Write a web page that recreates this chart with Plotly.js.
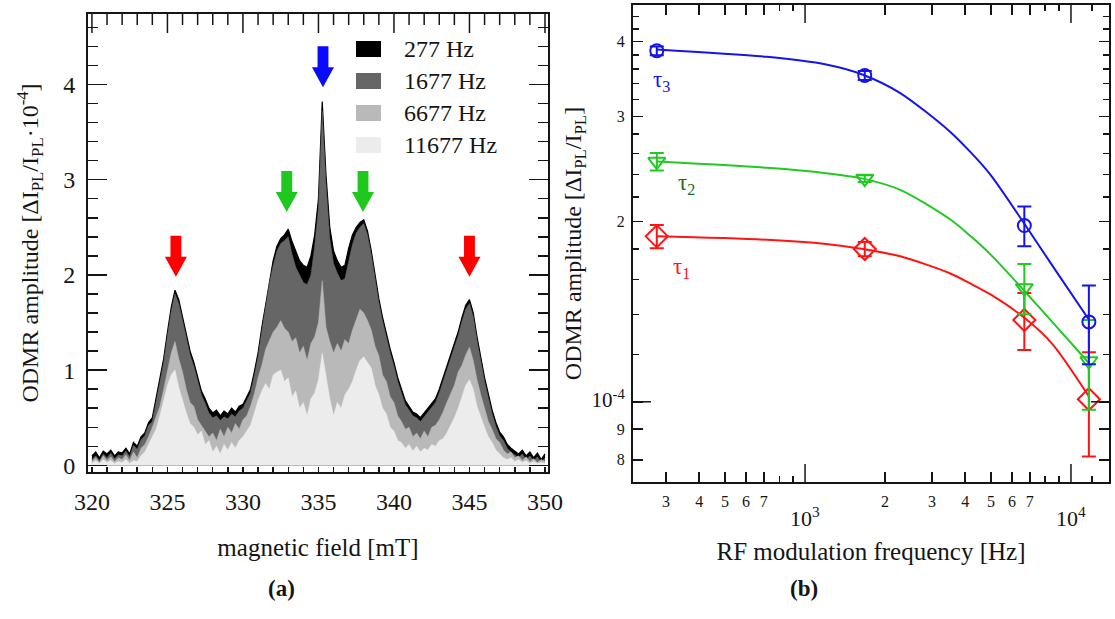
<!DOCTYPE html>
<html><head><meta charset="utf-8">
<script src="https://cdn.plot.ly/plotly-3.0.1.min.js"></script>
<style>html,body{margin:0;padding:0;background:#fff}#chart{width:1115px;height:619px}</style>
</head><body><div id="chart"></div>
<script>
// ---------- panel (a): ODMR spectra ----------
const field = [320,320.25,320.5,320.75,321,321.25,321.5,321.75,322,322.25,322.5,322.75,323,323.25,323.5,323.75,324,324.25,324.5,324.75,325,325.25,325.5,325.75,326,326.25,326.5,326.75,327,327.25,327.5,327.75,328,328.25,328.5,328.75,329,329.25,329.5,329.75,330,330.25,330.5,330.75,331,331.25,331.5,331.75,332,332.25,332.5,332.75,333,333.25,333.5,333.75,334,334.25,334.5,334.75,335,335.25,335.5,335.75,336,336.25,336.5,336.75,337,337.25,337.5,337.75,338,338.25,338.5,338.75,339,339.25,339.5,339.75,340,340.25,340.5,340.75,341,341.25,341.5,341.75,342,342.25,342.5,342.75,343,343.25,343.5,343.75,344,344.25,344.5,344.75,345,345.25,345.5,345.75,346,346.25,346.5,346.75,347,347.25,347.5,347.75,348,348.25,348.5,348.75,349,349.25,349.5,349.75,350];
const amp277 = [0.10,0.14,0.08,0.15, 0.12,0.16,0.10,0.14, 0.13,0.18,0.12,0.24, 0.20,0.30,0.34,0.45, 0.50,0.70,0.90,1.12, 1.40,1.66,1.84,1.74, 1.56,1.38,1.20,1.08, 0.92,0.78,0.70,0.60, 0.55,0.58,0.52,0.57, 0.54,0.60,0.56,0.62, 0.64,0.72,0.80,0.98, 1.18,1.45,1.70,1.95, 2.15,2.30,2.38,2.42, 2.48,2.35,2.24,2.15, 2.10,2.08,2.20,2.42, 2.80,3.82,3.05,2.50, 2.25,2.15,2.08,2.10, 2.28,2.42,2.50,2.55, 2.58,2.46,2.25,1.98, 1.75,1.55,1.38,1.22, 1.08,0.92,0.80,0.68, 0.62,0.56,0.54,0.50, 0.55,0.60,0.66,0.70, 0.80,0.92,1.05,1.18, 1.28,1.40,1.55,1.68, 1.74,1.60,1.35,1.12, 0.92,0.75,0.58,0.45, 0.35,0.30,0.22,0.18, 0.15,0.12,0.16,0.10, 0.14,0.08,0.13,0.06, 0.12];
const amp1677 = [0.06,0.10,0.05,0.12, 0.08,0.13,0.07,0.11, 0.10,0.15,0.09,0.21, 0.17,0.27,0.31,0.42, 0.46,0.66,0.86,1.08, 1.36,1.62,1.80,1.70, 1.52,1.34,1.16,1.04, 0.88,0.74,0.65,0.55, 0.50,0.52,0.47,0.51, 0.49,0.54,0.51,0.57, 0.60,0.68,0.76,0.94, 1.14,1.41,1.66,1.91, 2.10,2.25,2.33,2.36, 2.40,2.22,2.08,2.00, 1.92,1.90,2.00,2.30, 2.70,3.72,2.95,2.38, 2.12,2.02,1.94,1.96, 2.15,2.32,2.44,2.50, 2.54,2.42,2.21,1.94, 1.71,1.51,1.34,1.18, 1.04,0.88,0.76,0.64, 0.58,0.52,0.50,0.46, 0.51,0.56,0.62,0.66, 0.76,0.88,1.01,1.14, 1.24,1.36,1.51,1.64, 1.70,1.56,1.31,1.08, 0.88,0.71,0.54,0.41, 0.31,0.26,0.18,0.14, 0.11,0.08,0.12,0.06, 0.10,0.05,0.09,0.03, 0.08];
const amp6677 = [0.04,0.08,0.03,0.10, 0.05,0.09,0.04,0.08, 0.06,0.11,0.05,0.14, 0.08,0.18,0.22,0.30, 0.40,0.52,0.62,0.80, 0.98,1.18,1.30,1.12, 0.98,0.80,0.66,0.62, 0.48,0.42,0.36,0.30, 0.34,0.26,0.38,0.30, 0.40,0.34,0.44,0.38, 0.48,0.52,0.62,0.75, 0.92,1.05,1.22,1.32, 1.40,1.45,1.52,1.44, 1.40,1.30,1.34,1.18, 1.25,1.10,1.28,1.35, 1.50,1.94,1.45,1.30, 1.18,1.28,1.20,1.32, 1.28,1.42,1.52,1.64, 1.60,1.52,1.42,1.25, 1.15,0.95,0.88,0.72, 0.66,0.52,0.46,0.38, 0.40,0.30,0.34,0.28, 0.36,0.30,0.40,0.42, 0.48,0.56,0.66,0.76, 0.84,0.98,1.05,1.16, 1.24,1.10,0.90,0.74, 0.60,0.46,0.38,0.28, 0.24,0.16,0.12,0.14, 0.08,0.10,0.05,0.09, 0.04,0.07,0.03,0.06, 0.04];
const amp11677 = [0.02,0.05,0.02,0.06, 0.03,0.05,0.02,0.04, 0.03,0.06,0.02,0.05, 0.04,0.10,0.14,0.22, 0.30,0.38,0.52,0.68, 0.84,0.95,1.00,0.82, 0.68,0.55,0.44,0.40, 0.32,0.36,0.22,0.26, 0.14,0.20,0.12,0.22, 0.16,0.24,0.18,0.26, 0.30,0.36,0.42,0.55, 0.68,0.78,0.86,0.80, 0.95,0.98,1.00,0.88, 0.92,0.72,0.78,0.60, 0.66,0.52,0.70,0.76, 0.90,1.18,0.92,0.70, 0.52,0.66,0.60,0.74, 0.80,0.88,1.00,1.10, 1.14,1.08,1.02,0.84, 0.74,0.60,0.54,0.40, 0.36,0.26,0.24,0.18, 0.22,0.15,0.20,0.14, 0.18,0.16,0.22,0.20, 0.26,0.28,0.34,0.42, 0.50,0.60,0.72,0.84, 0.90,0.80,0.62,0.50, 0.40,0.30,0.24,0.16, 0.12,0.08,0.06,0.08, 0.04,0.06,0.03,0.05, 0.02,0.04,0.02,0.03, 0.02];
const spectraLabels = ['277 Hz','1677 Hz','6677 Hz','11677 Hz'];
const fieldTicks = [320,325,330,335,340,345,350];
const ampTicks = [0,1,2,3,4];

// ---------- panel (b): amplitude vs modulation frequency ----------
const modFreq = [277,1677,6677,11677];
const ampTau1 = [1.89,1.80,1.37,1.01];
const errTau1 = [0.085,0.05,0.15,0.20];
const ampTau2 = [2.52,2.36,1.55,1.17];
const errTau2 = [0.085,0.03,0.15,0.20];
const ampTau3 = [3.86,3.51,1.97,1.36];
const errTau3 = [0.065,0.06,0.15,0.205];
const fitFreq = [277,720,1200,1650,2280,3500,4200,5000,6700,8500,11700];
const fitTau1 = [1.89,1.865,1.835,1.80,1.75,1.64,1.575,1.51,1.38,1.25,1.02];
const fitTau2 = [2.52,2.46,2.41,2.36,2.26,2.02,1.89,1.76,1.53,1.36,1.16];
const fitTau3 = [3.88,3.77,3.66,3.52,3.28,2.83,2.61,2.39,1.98,1.69,1.37];
const freqTickVals = [300,400,500,600,700,2000,3000,4000,5000,6000,7000];
const freqTickText = ['3','4','5','6','7','2','3','4','5','6','7'];
const freqDecades = [1000,10000];
const freqMinor = [800,900,8000,9000,12000];
const ampLogTickVals = [0.8,0.9,1,2,3,4];
const ampLogTickText = ['8','9','<span style="font-size:21px">10<sup>-4</sup></span>','2','3','4'];
const ampLogMinor = [1.2,1.4,1.6,1.8,2.2,2.4,2.6,2.8,3.2,3.4,3.6,3.8,4.2,4.4];

// ---------- styling ----------
const W = 1115, H = 619;
const px = x => x / W, py = y => 1 - y / H;
const FONT = '"Liberation Serif","DejaVu Serif",serif';
const INK = '#151515';
const fillColors = ['#000000','#666666','#b9b9b9','#ececec'];
const BLUE = '#1414f0', GREEN = '#22c922', RED = '#ff1414';

const traces = [];
[amp277, amp1677, amp6677, amp11677].forEach((a, i) => {
  traces.push({type:'scatter', mode:'lines', x: field, y: a, xaxis:'x', yaxis:'y',
    fill:'tozeroy', fillcolor: fillColors[i], line:{color: fillColors[i], width: i === 0 ? 1.2 : 0.5},
    name: spectraLabels[i], hoverinfo:'skip', showlegend:false});
});
const series = [
  {v: fitTau1, a: ampTau1, e: errTau1, c: RED, sym:'diamond-open', size:17},
  {v: fitTau2, a: ampTau2, e: errTau2, c: GREEN, sym:'triangle-down-open', size:15},
  {v: fitTau3, a: ampTau3, e: errTau3, c: BLUE, sym:'circle-open', size:13}
];
series.forEach(s => {
  traces.push({type:'scatter', mode:'lines', x: fitFreq, y: s.v, xaxis:'x2', yaxis:'y2',
    line:{color: s.c, width: 2, shape:'spline', smoothing: 0.8}, hoverinfo:'skip', showlegend:false});
});
series.forEach(s => {
  traces.push({type:'scatter', mode:'markers', x: modFreq, y: s.a, xaxis:'x2', yaxis:'y2',
    marker:{symbol: s.sym, size: s.size, color: s.c, line:{color: s.c, width: 2}},
    error_y:{type:'data', array: s.e, visible:true, color: s.c, thickness: 2, width: 7},
    hoverinfo:'skip', showlegend:false});
});

// block arrows in panel (a)
function arrowPath(cx, top, head, tip, sHalf, hHalf) {
  return `M${cx - sHalf},${top} L${cx + sHalf},${top} L${cx + sHalf},${head} L${cx + hHalf},${head} L${cx},${tip} L${cx - hHalf},${head} L${cx - sHalf},${head} Z`;
}
const arrows = [
  {cx:325.56, top:2.41, head:2.19, tip:1.98, c:'#ff0000'},
  {cx:332.9,  top:3.09, head:2.87, tip:2.66, c:'#1ec81e'},
  {cx:335.3,  top:4.40, head:4.18, tip:3.97, c:'#0a0aff'},
  {cx:337.95, top:3.09, head:2.87, tip:2.66, c:'#1ec81e'},
  {cx:345.0,  top:2.41, head:2.19, tip:1.98, c:'#ff0000'}
];
const shapes = arrows.map(a => ({type:'path', xref:'x', yref:'y', path: arrowPath(a.cx, a.top, a.head, a.tip, 0.36, 0.73),
  fillcolor: a.c, line:{width:0}}));

// top-frame ticks of panel (a) (long majors, short minors)
const tickLine = {color: INK, width: 1.5};
for (let v = 320; v <= 350; v += 1) {
  const len = (v % 5 === 0) ? 19 / 458 : 11 / 458;
  shapes.push({type:'line', xref:'x', yref:'y domain', x0: v, x1: v, y0: 1, y1: 1 - len, line: tickLine});
}

// legend boxes for panel (a)
const legendRows = [[41,57],[73,89],[105,121],[137,153]];
const annotations = [];
legendRows.forEach((r, i) => {
  shapes.push({type:'rect', xref:'paper', yref:'paper', x0: px(356), x1: px(381), y0: py(r[1]), y1: py(r[0]),
    fillcolor: fillColors[i], line:{width:0}});
  annotations.push({xref:'paper', yref:'paper', x: px(402), y: py((r[0] + r[1]) / 2), xanchor:'left', yanchor:'middle',
    text: spectraLabels[i], showarrow:false, font:{size:24, color: INK, family: FONT}});
});

// long decade ticks in panel (b)
freqDecades.forEach(v => {
  shapes.push({type:'line', xref:'x2', yref:'y2 domain', x0:v, x1:v, y0:0, y1:18/477, line: tickLine});
  shapes.push({type:'line', xref:'x2', yref:'y2 domain', x0:v, x1:v, y0:1, y1:1-18/477, line: tickLine});
});
shapes.push({type:'line', xref:'x2 domain', yref:'y2', x0:0, x1:18/476, y0:1, y1:1, line: tickLine});
shapes.push({type:'line', xref:'x2 domain', yref:'y2', x0:1, x1:1-18/476, y0:1, y1:1, line: tickLine});

// decade labels, tau labels, panel labels
annotations.push({xref:'x2', yref:'paper', x:3, y:py(533), text:'10<sup>3</sup>', showarrow:false, font:{size:22, color:INK, family:FONT}});
annotations.push({xref:'x2', yref:'paper', x:4, y:py(533), text:'10<sup>4</sup>', showarrow:false, font:{size:22, color:INK, family:FONT}});
annotations.push({xref:'x2', yref:'y2', x:2.459, y:0.536, text:'τ<sub>3</sub>', showarrow:false, font:{size:23, color:'#1414f0', family:FONT}});
annotations.push({xref:'x2', yref:'y2', x:2.553, y:0.364, text:'τ<sub>2</sub>', showarrow:false, font:{size:23, color:'#1d6e1d', family:FONT}});
annotations.push({xref:'x2', yref:'y2', x:2.534, y:0.224, text:'τ<sub>1</sub>', showarrow:false, font:{size:23, color:'#ff1414', family:FONT}});
annotations.push({xref:'paper', yref:'paper', x:px(266), y:py(603), text:'<b>(a)</b>', showarrow:false, font:{size:23, color:INK, family:FONT}});
annotations.push({xref:'paper', yref:'paper', x:px(820), y:py(603), text:'<b>(b)</b>', showarrow:false, font:{size:23, color:INK, family:FONT}});

const minorLin = (d, len, t0) => ({tickmode:'linear', tick0:t0, dtick:d, ticks:'inside', ticklen:len, tickwidth:1.5, tickcolor:INK});
const layout = {
  width: W, height: H, margin:{l:0, r:0, t:0, b:0}, paper_bgcolor:'#fff', plot_bgcolor:'rgba(0,0,0,0)',
  showlegend:false, font:{family: FONT, color: INK, size: 20},
  xaxis:{domain:[px(88), px(548)], range:[319.74, 350.2], anchor:'y', tickmode:'array', tickvals: fieldTicks,
    ticks:'inside', ticklen:5, tickwidth:1.5, tickcolor:INK, minor: minorLin(1, 5, 320),
    showline:true, linewidth:2, linecolor:INK, mirror:true, showgrid:false, zeroline:false,
    tickfont:{size:24}, ticklabelstandoff: 7,
    title:{text:'magnetic field [mT]', font:{size:25}, standoff: 25}},
  yaxis:{domain:[py(472), py(14)], range:[-0.07, 4.74], anchor:'x', tickmode:'array', tickvals: ampTicks,
    ticks:'inside', ticklen:19, tickwidth:1.5, tickcolor:INK, minor: minorLin(0.2, 10, 0),
    showline:true, linewidth:2, linecolor:INK, mirror:'ticks', showgrid:false, zeroline:false,
    tickfont:{size:24}, ticklabelstandoff: 6,
    title:{text:'ODMR amplitude [ΔI<sub>PL</sub>/I<sub>PL</sub>·10<sup>-4</sup>]', font:{size:24}, standoff: 18}},
  xaxis2:{type:'log', domain:[px(633), px(1109)], range:[2.353, 4.143], anchor:'y2', tickmode:'array',
    tickvals: freqTickVals, ticktext: freqTickText, ticks:'inside', ticklen:10, tickwidth:1.5, tickcolor:INK,
    minor:{tickmode:'array', tickvals: freqMinor, ticks:'inside', ticklen:6, tickwidth:1.5, tickcolor:INK},
    showline:true, linewidth:2, linecolor:INK, mirror:'ticks', showgrid:false, zeroline:false,
    tickfont:{size:16}, ticklabelstandoff: 4,
    title:{text:'RF modulation frequency [Hz]', font:{size:25}, standoff: 33}},
  yaxis2:{type:'log', domain:[py(482), py(5)], range:[-0.134, 0.663], anchor:'x2', tickmode:'array',
    tickvals: ampLogTickVals, ticktext: ampLogTickText, ticks:'inside', ticklen:10, tickwidth:1.5, tickcolor:INK,
    minor:{tickmode:'array', tickvals: ampLogMinor, ticks:'inside', ticklen:6, tickwidth:1.5, tickcolor:INK},
    showline:true, linewidth:2, linecolor:INK, mirror:'ticks', showgrid:false, zeroline:false,
    tickfont:{size:16}, ticklabelstandoff: 3,
    title:{text:'ODMR amplitude [ΔI<sub>PL</sub>/I<sub>PL</sub>]', font:{size:24}, standoff: 3}},
  shapes: shapes,
  annotations: annotations
};
Plotly.newPlot('chart', traces, layout, {staticPlot:true, displayModeBar:false});
</script></body></html>
